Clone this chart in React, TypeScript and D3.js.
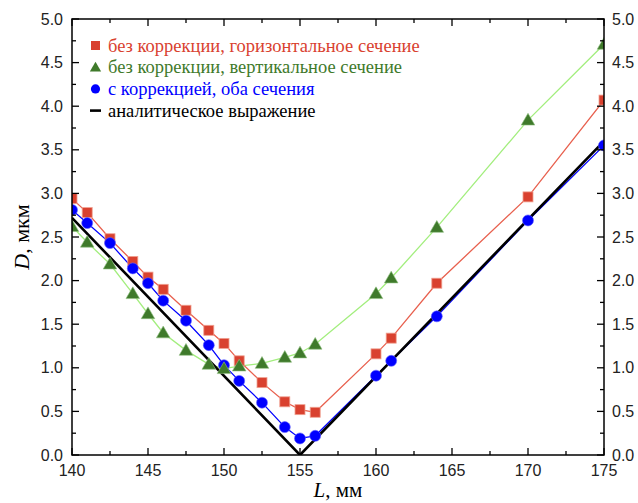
import * as d3 from "d3";

const W = 638;
const H = 503;
const margin = { top: 19, right: 34, bottom: 48, left: 72 };

// L, mm positions for the measured series
const L = [140, 141, 142.5, 144, 145, 146, 147.5, 149, 150, 151, 152.5, 154, 155, 156, 160, 161, 164, 170, 175];

const redHoriz = [2.94, 2.78, 2.48, 2.22, 2.04, 1.9, 1.66, 1.43, 1.28, 1.08, 0.83, 0.61, 0.52, 0.49, 1.16, 1.34, 1.97, 2.96, 4.07];
const greenVert = [2.62, 2.44, 2.19, 1.85, 1.62, 1.4, 1.2, 1.04, 0.99, 1.02, 1.05, 1.12, 1.17, 1.27, 1.85, 2.03, 2.61, 3.84, 4.71];
const blueCorr = [2.81, 2.66, 2.43, 2.14, 1.97, 1.77, 1.54, 1.26, 1.03, 0.85, 0.6, 0.32, 0.19, 0.22, 0.91, 1.08, 1.59, 2.69, 3.55];

// analytic expression (V shape)
const analyticL = [140, 155, 175];
const analyticD = [2.72, 0, 3.6];

const legendLabels = [
  "без коррекции, горизонтальное сечение",
  "без коррекции, вертикальное сечение",
  "с коррекцией, оба сечения",
  "аналитическое выражение",
];

const xTicks = [140, 145, 150, 155, 160, 165, 170, 175];
const yTicks = [0, 0.5, 1, 1.5, 2, 2.5, 3, 3.5, 4, 4.5, 5];

const RED = "#d9412f";
const RED_LINE = "#e8604e";
const GREEN = "#3f7a2b";
const GREEN_LINE = "#a3ee7e";
const BLUE = "#0000ff";

export default function App() {
  const x = d3.scaleLinear().domain([140, 175]).range([margin.left, W - margin.right]);
  const y = d3.scaleLinear().domain([0, 5]).range([H - margin.bottom, margin.top]);
  const x0 = margin.left;
  const x1 = W - margin.right;
  const y0 = H - margin.bottom;
  const y1 = margin.top;

  const line = d3
    .line<[number, number]>()
    .x((d) => x(d[0]))
    .y((d) => y(d[1]));

  const zip = (vals: number[]) => L.map((l, i) => [l, vals[i]] as [number, number]);
  const red = zip(redHoriz);
  const green = zip(greenVert);
  const blue = zip(blueCorr);
  const analytic = analyticL.map((l, i) => [l, analyticD[i]] as [number, number]);

  const xMinor = d3.range(140, 175.01, 2.5);
  const yMinor = d3.range(0, 5.01, 0.25);
  const sans = "'Liberation Sans', Arial, sans-serif";
  const serif = "'Liberation Serif', 'Times New Roman', serif";

  const tri = d3.symbol().type(d3.symbolTriangle).size(80)();

  return (
    <svg width={W} height={H} style={{ position: "absolute", left: 0, top: 0, background: "#fff" }}>
      <defs>
        <clipPath id="plot">
          <rect x={x0} y={y1} width={x1 - x0} height={y0 - y1} />
        </clipPath>
      </defs>

      <g clipPath="url(#plot)">
        <path d={line(green) || ""} fill="none" stroke={GREEN_LINE} strokeWidth={1.3} />
        <path d={line(red) || ""} fill="none" stroke={RED_LINE} strokeWidth={1.3} />
        <path d={line(blue) || ""} fill="none" stroke={BLUE} strokeWidth={1.3} />
        <path d={line(analytic) || ""} fill="none" stroke="#000" strokeWidth={2.6} />
        {red.map((d, i) => (
          <rect key={"r" + i} x={x(d[0]) - 5} y={y(d[1]) - 5} width={10} height={10} fill={RED} stroke="#f0a090" strokeWidth={0.8} />
        ))}
        {blue.map((d, i) => (
          <circle key={"b" + i} cx={x(d[0])} cy={y(d[1])} r={5.5} fill={BLUE} stroke="#6060ff" strokeWidth={0.6} />
        ))}
        {green.map((d, i) => (
          <path key={"g" + i} d={tri || ""} transform={`translate(${x(d[0])},${y(d[1]) + 1})`} fill={GREEN} stroke="#8fbf80" strokeWidth={0.6} />
        ))}
      </g>

      {/* frame */}
      <rect x={x0} y={y1} width={x1 - x0} height={y0 - y1} fill="none" stroke="#000" strokeWidth={1.5} />

      {/* ticks, inward on all four sides */}
      {xMinor.map((t) => {
        const major = xTicks.includes(t);
        const len = major ? 7 : 4;
        return (
          <g key={"xt" + t}>
            <line x1={x(t)} x2={x(t)} y1={y0} y2={y0 - len} stroke="#000" strokeWidth={1.3} />
            <line x1={x(t)} x2={x(t)} y1={y1} y2={y1 + len} stroke="#000" strokeWidth={1.3} />
          </g>
        );
      })}
      {yMinor.map((t) => {
        const major = yTicks.some((v) => Math.abs(v - t) < 1e-6);
        const len = major ? 7 : 4;
        return (
          <g key={"yt" + t}>
            <line x1={x0} x2={x0 + len} y1={y(t)} y2={y(t)} stroke="#000" strokeWidth={1.3} />
            <line x1={x1} x2={x1 - len} y1={y(t)} y2={y(t)} stroke="#000" strokeWidth={1.3} />
          </g>
        );
      })}

      {/* tick labels */}
      {xTicks.map((t) => (
        <text key={"xl" + t} x={x(t)} y={y0 + 21} textAnchor="middle" fontFamily={sans} fontSize={16} fill="#222">
          {t}
        </text>
      ))}
      {yTicks.map((t) => (
        <g key={"yl" + t}>
          <text x={x0 - 9} y={y(t) + 5.5} textAnchor="end" fontFamily={sans} fontSize={16} fill="#222">
            {t.toFixed(1)}
          </text>
          <text x={x1 + 8} y={y(t) + 5.5} textAnchor="start" fontFamily={sans} fontSize={16} fill="#222">
            {t.toFixed(1)}
          </text>
        </g>
      ))}

      {/* axis titles */}
      <text x={(x0 + x1) / 2} y={H - 6} textAnchor="middle" fontFamily={serif} fontSize={21}>
        <tspan fontStyle="italic">L</tspan>, мм
      </text>
      <text transform={`translate(29,${(y0 + y1) / 2}) rotate(-90)`} textAnchor="middle" fontFamily={serif} fontSize={22}>
        <tspan fontStyle="italic">D</tspan>, мкм
      </text>

      {/* legend */}
      {legendLabels.map((label, i) => {
        const cy = 45.5 + i * 21.7;
        const colors = [RED, GREEN, BLUE, "#000"];
        return (
          <g key={"lg" + i}>
            {i === 0 && <rect x={91} y={cy - 4.5} width={9} height={9} fill={RED} />}
            {i === 1 && <path d={d3.symbol().type(d3.symbolTriangle).size(55)() || ""} transform={`translate(95.5,${cy + 1})`} fill={GREEN} />}
            {i === 2 && <circle cx={95.5} cy={cy} r={4.6} fill={BLUE} />}
            {i === 3 && <line x1={90} x2={101} y1={cy} y2={cy} stroke="#000" strokeWidth={2.6} />}
            <text x={108} y={cy + 6} fontFamily={serif} fontSize={18.5} fill={colors[i]}>
              {label}
            </text>
          </g>
        );
      })}
    </svg>
  );
}
